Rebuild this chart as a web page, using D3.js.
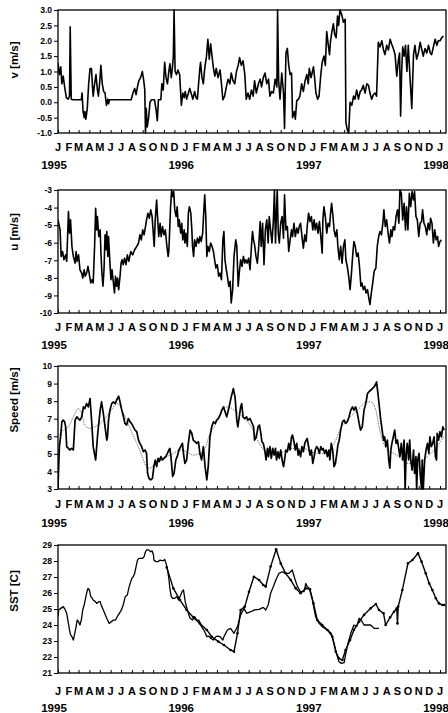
<!DOCTYPE html>
<html>
<head>
<meta charset="utf-8">
<script src="https://cdn.jsdelivr.net/npm/d3@7"></script>
<style>
body { margin: 0; background: #fff; }
svg { display: block; font-family: "Liberation Sans", Arial, Helvetica, sans-serif; }
</style>
</head>
<body>
<svg id="chart" width="448" height="713"></svg>
<script>
// [days since 1 Jan 1995, value]
var vSeries = [[0,1.27],[4,0.9],[8,1.15],[11,0.6],[15,0.85],[19,0.5],[24,0.15],[29,0.1],[33,0.2],[35,2.45],[38,0.1],[43,0.08],[67,0.08],[69,0.3],[72,-0.3],[75,-0.5],[77,-0.3],[80,-0.55],[84,-0.2],[88,0.6],[92,1.1],[96,1.1],[99,0.5],[101,0.2],[105,0.6],[109,0.9],[113,0.4],[116,0.2],[120,0.7],[123,1.2],[127,0.6],[131,0.35],[135,0.3],[139,-0.1],[143,0.1],[145,-0.05],[148,0.08],[210,0.08],[215,0.3],[220,0.45],[224,0.25],[228,0.5],[232,0.7],[237,0.8],[242,1.0],[246,0.7],[249,0.4],[251,-1.0],[253,-0.2],[256,-0.8],[260,-0.5],[264,0.0],[268,0.08],[277,0.08],[282,-0.3],[285,-0.6],[288,0.08],[295,0.08],[298,0.6],[302,0.4],[306,1.3],[310,0.8],[314,0.6],[318,1.0],[321,1.25],[325,0.8],[328,1.1],[331,1.5],[333,3.0],[336,1.0],[340,0.9],[344,1.05],[349,0.9],[354,-0.1],[358,0.3],[362,0.15],[365,0.35],[369,0.1],[373,0.25],[378,0.45],[383,0.25],[387,0.1],[392,0.35],[396,0.15],[400,0.1],[404,0.7],[407,1.1],[409,1.3],[413,0.8],[417,0.6],[421,1.1],[426,1.5],[430,2.05],[434,1.4],[438,1.9],[442,1.5],[446,1.1],[450,0.85],[454,1.1],[459,0.8],[465,1.05],[469,0.6],[473,0.08],[478,0.2],[483,0.5],[488,0.75],[493,0.6],[497,0.95],[502,0.7],[507,0.6],[512,1.0],[517,1.2],[521,1.45],[526,1.2],[531,1.35],[536,0.9],[540,0.1],[545,0.3],[550,0.1],[555,0.4],[560,0.2],[564,0.7],[569,0.3],[575,0.6],[580,0.75],[584,0.5],[589,0.8],[594,0.95],[599,0.6],[604,0.75],[608,0.2],[613,0.35],[618,0.3],[623,0.75],[628,0.5],[630,3.0],[633,0.7],[637,0.1],[642,0.95],[647,0.3],[650,-0.85],[654,1.6],[658,1.75],[662,1.2],[666,0.9],[670,0.95],[673,-0.5],[678,-0.3],[681,-0.55],[685,0.05],[690,0.1],[694,0.2],[699,0.6],[704,0.35],[709,0.7],[714,0.9],[718,0.6],[721,1.1],[726,0.8],[729,0.95],[733,1.15],[737,0.7],[740,0.3],[745,0.1],[749,0.2],[754,0.9],[758,1.3],[763,1.5],[767,1.2],[771,2.3],[775,1.9],[779,1.55],[782,2.0],[786,2.3],[790,2.55],[794,2.2],[798,2.1],[802,2.8],[805,2.5],[809,3.0],[814,2.85],[819,2.6],[824,2.7],[826,-0.65],[830,-0.9],[834,-1.0],[838,0.0],[843,-0.1],[848,0.2],[852,0.1],[857,0.4],[862,0.1],[867,0.35],[871,0.4],[876,0.55],[881,0.3],[886,0.6],[891,0.55],[895,0.3],[900,0.1],[905,0.25],[910,0.3],[914,0.2],[919,1.95],[924,1.8],[929,2.0],[934,1.7],[938,1.55],[943,1.85],[948,1.7],[953,2.05],[957,1.9],[962,1.75],[967,1.55],[972,0.85],[977,1.4],[980,1.6],[983,-0.45],[986,1.0],[989,1.8],[993,1.5],[997,1.85],[1001,1.0],[1005,1.85],[1010,0.8],[1015,-0.2],[1020,1.55],[1024,1.85],[1029,1.4],[1034,1.6],[1039,1.95],[1044,1.7],[1048,1.5],[1053,1.75],[1058,1.6],[1063,1.85],[1068,1.6],[1072,1.55],[1077,1.8],[1082,2.05],[1087,1.85],[1091,2.0],[1096,2.0],[1101,2.1],[1106,2.15]];

var uSeries = [[0,-4.7],[6,-5.27],[9,-6.78],[13,-6.5],[17,-6.97],[22,-6.69],[25,-7.06],[30,-4.23],[33,-5.46],[36,-4.7],[40,-6.21],[44,-6.78],[49,-7.16],[52,-6.5],[55,-7.06],[59,-6.69],[63,-7.54],[68,-7.73],[71,-8.01],[75,-7.54],[78,-7.91],[82,-7.73],[86,-7.35],[90,-7.82],[94,-8.29],[98,-8.1],[101,-8.29],[105,-6.21],[108,-4.04],[111,-5.27],[113,-4.51],[117,-5.65],[121,-5.27],[123,-6.5],[126,-7.73],[129,-8.48],[132,-7.54],[135,-5.55],[138,-6.4],[140,-5.36],[143,-6.78],[145,-5.65],[149,-7.16],[152,-8.1],[155,-7.54],[159,-8.29],[162,-8.86],[165,-7.91],[168,-8.48],[171,-8.01],[174,-8.67],[178,-7.91],[181,-7.16],[184,-6.97],[187,-7.25],[191,-6.88],[195,-7.25],[199,-6.69],[203,-7.06],[209,-6.5],[214,-6.69],[220,-6.4],[226,-6.21],[231,-6.02],[235,-5.55],[239,-5.84],[243,-5.27],[247,-5.55],[251,-5.08],[254,-4.7],[258,-4.32],[262,-4.61],[266,-4.13],[270,-4.51],[274,-5.65],[276,-6.21],[279,-4.7],[283,-3.57],[285,-4.32],[289,-5.65],[293,-4.89],[296,-5.65],[300,-5.08],[304,-5.55],[308,-5.27],[312,-6.12],[316,-6.78],[318,-6.5],[323,-3.95],[326,-3.0],[329,-3.38],[332,-3.09],[335,-4.13],[339,-4.51],[342,-3.95],[345,-5.08],[348,-4.7],[352,-5.46],[355,-4.89],[358,-5.84],[362,-5.27],[364,-6.02],[367,-5.46],[371,-6.21],[374,-4.32],[377,-3.95],[381,-4.32],[384,-5.27],[386,-6.21],[389,-6.78],[392,-5.84],[396,-6.21],[400,-5.74],[404,-6.02],[407,-5.65],[411,-5.93],[415,-5.46],[419,-3.95],[421,-3.28],[424,-4.51],[427,-6.78],[430,-6.21],[434,-6.5],[438,-6.02],[442,-6.21],[446,-6.5],[450,-7.06],[453,-7.44],[457,-7.25],[461,-7.91],[465,-7.73],[469,-8.1],[473,-5.84],[476,-5.36],[479,-6.97],[483,-7.54],[486,-7.91],[490,-8.48],[494,-8.2],[497,-9.43],[501,-8.67],[505,-6.78],[510,-5.84],[513,-6.21],[517,-8.48],[520,-7.73],[524,-6.97],[528,-7.35],[532,-6.78],[536,-7.16],[539,-6.97],[543,-7.16],[547,-6.88],[551,-7.54],[555,-6.21],[558,-5.36],[561,-5.84],[564,-6.12],[568,-6.78],[572,-7.16],[576,-6.21],[580,-4.8],[583,-6.21],[587,-4.89],[591,-7.25],[595,-5.27],[599,-4.7],[603,-6.02],[606,-4.51],[610,-5.27],[614,-6.02],[618,-4.7],[621,-3.0],[624,-6.02],[627,-4.13],[629,-3.0],[632,-5.46],[635,-6.02],[639,-4.89],[643,-4.51],[647,-5.74],[650,-3.28],[654,-5.27],[658,-5.08],[662,-6.5],[666,-5.84],[670,-5.27],[673,-5.65],[677,-4.89],[681,-5.65],[685,-5.17],[689,-5.46],[692,-5.08],[696,-4.89],[700,-5.65],[704,-6.31],[708,-5.55],[712,-5.93],[715,-5.08],[719,-4.32],[723,-4.8],[727,-4.51],[731,-5.27],[735,-4.7],[738,-5.27],[742,-4.89],[746,-5.46],[750,-4.8],[754,-5.65],[758,-6.59],[760,-4.7],[763,-3.95],[767,-4.51],[771,-5.46],[775,-4.89],[779,-5.08],[782,-4.32],[785,-3.76],[789,-4.51],[792,-5.27],[796,-5.65],[800,-5.27],[803,-6.21],[807,-6.97],[811,-6.21],[815,-7.16],[819,-6.21],[823,-5.84],[826,-6.97],[830,-7.35],[834,-7.91],[838,-8.67],[842,-7.73],[846,-6.59],[849,-5.93],[853,-6.21],[857,-6.78],[861,-6.59],[865,-7.35],[869,-8.48],[872,-8.29],[876,-8.67],[880,-8.48],[884,-8.86],[888,-8.67],[891,-9.05],[895,-9.52],[899,-8.86],[903,-8.29],[907,-7.63],[912,-7.44],[916,-6.21],[920,-5.65],[924,-5.36],[928,-5.55],[932,-4.89],[935,-4.13],[939,-5.08],[943,-4.7],[947,-5.46],[951,-6.02],[955,-5.27],[958,-5.65],[962,-5.08],[966,-5.27],[970,-4.51],[974,-4.13],[978,-4.89],[981,-3.0],[985,-3.19],[989,-4.7],[993,-3.76],[997,-5.27],[1000,-3.95],[1004,-5.27],[1008,-3.19],[1012,-3.95],[1016,-3.09],[1020,-3.57],[1023,-3.09],[1027,-4.51],[1031,-4.7],[1035,-5.65],[1039,-4.89],[1043,-4.8],[1046,-4.13],[1050,-4.89],[1054,-5.08],[1058,-5.55],[1062,-4.89],[1066,-5.27],[1069,-4.61],[1073,-4.89],[1077,-6.02],[1081,-5.27],[1085,-5.84],[1089,-5.65],[1092,-6.21],[1096,-5.93],[1100,-5.84]];

var speedSeries = [[0,3.14],[4,5.41],[8,6.07],[11,6.82],[15,6.92],[19,6.82],[22,6.54],[25,5.41],[30,5.31],[34,5.22],[39,5.31],[44,5.22],[49,6.92],[54,7.11],[58,7.01],[63,6.92],[68,7.11],[73,7.67],[77,7.58],[82,7.86],[87,7.67],[92,8.15],[97,6.73],[101,5.41],[108,4.65],[114,6.16],[121,7.49],[125,7.96],[130,7.3],[135,6.54],[140,5.78],[142,5.97],[145,6.92],[149,7.49],[154,7.86],[159,7.96],[164,7.86],[168,8.05],[174,8.28],[178,7.96],[183,7.49],[188,7.11],[192,6.73],[197,6.64],[202,7.01],[207,6.82],[211,6.73],[216,6.54],[221,6.35],[226,6.26],[231,5.78],[235,5.6],[240,5.41],[245,5.12],[250,5.22],[254,5.03],[257,3.89],[261,3.61],[266,3.52],[271,3.61],[275,4.27],[279,4.65],[283,4.27],[287,4.74],[291,4.56],[295,4.84],[299,4.65],[304,4.74],[309,4.84],[314,5.03],[318,5.22],[321,5.31],[324,4.84],[329,3.71],[333,3.89],[338,4.65],[342,4.84],[347,5.22],[352,5.41],[357,5.6],[360,5.03],[364,4.46],[369,4.65],[374,5.6],[379,6.35],[384,6.16],[388,5.78],[393,5.69],[398,5.6],[403,5.69],[407,5.03],[412,4.65],[417,5.41],[422,4.27],[427,3.52],[431,4.27],[436,5.97],[441,6.54],[446,6.82],[451,6.73],[455,6.92],[460,7.01],[465,7.2],[470,7.49],[475,7.67],[484,7.11],[491,7.67],[497,8.24],[503,8.71],[508,8.24],[513,6.92],[516,6.54],[520,7.11],[524,7.67],[527,7.86],[531,7.11],[536,7.01],[541,7.11],[545,6.92],[551,7.01],[557,6.73],[561,6.54],[564,5.78],[569,5.97],[574,6.54],[578,6.64],[582,6.16],[585,5.69],[589,5.6],[593,5.22],[597,4.65],[601,5.31],[604,4.84],[608,5.41],[612,4.74],[616,5.31],[620,4.93],[624,5.31],[627,4.65],[631,5.12],[635,4.74],[639,5.22],[643,4.65],[647,4.27],[650,4.65],[654,5.22],[658,5.12],[662,5.6],[666,5.22],[670,5.97],[673,6.07],[677,5.69],[681,5.22],[685,5.6],[689,4.93],[692,5.22],[696,4.84],[700,5.41],[704,5.12],[708,5.6],[712,5.78],[715,5.88],[719,5.41],[723,4.93],[727,5.22],[731,4.46],[735,4.84],[738,5.22],[742,5.41],[746,5.31],[750,5.03],[754,5.41],[758,5.22],[761,5.31],[765,5.03],[769,5.22],[773,4.84],[777,5.22],[780,4.65],[784,5.6],[788,5.22],[792,4.27],[796,4.46],[800,5.03],[803,5.5],[807,5.78],[811,6.35],[816,6.82],[821,6.92],[825,6.73],[830,6.82],[835,7.11],[840,7.49],[845,7.67],[849,7.49],[854,7.67],[859,7.3],[864,6.73],[868,6.35],[873,6.54],[878,7.49],[883,7.86],[888,8.43],[892,8.53],[897,8.62],[902,8.71],[907,8.81],[912,9.0],[914,9.09],[918,8.43],[922,7.67],[926,6.92],[930,6.35],[934,5.78],[937,5.97],[941,5.41],[945,5.78],[949,4.65],[952,4.18],[955,5.22],[958,5.6],[962,5.97],[966,6.35],[970,5.6],[974,5.78],[978,5.22],[981,4.84],[985,5.6],[989,4.65],[993,5.78],[996,3.0],[999,5.03],[1002,5.6],[1006,4.65],[1009,5.78],[1012,4.65],[1016,4.08],[1020,5.22],[1023,3.89],[1027,4.84],[1029,3.0],[1032,4.65],[1036,5.03],[1039,3.89],[1043,3.0],[1045,4.65],[1048,3.0],[1052,4.65],[1056,5.22],[1060,5.6],[1064,5.03],[1067,5.97],[1071,5.41],[1075,5.6],[1079,5.97],[1083,4.84],[1086,4.65],[1088,6.16],[1092,5.78],[1096,6.26],[1100,5.97],[1104,6.54],[1108,6.35]];

var speedSmooth = [[4,6.07],[15,6.35],[30,6.54],[44,7.11],[58,7.58],[68,7.3],[77,6.64],[92,6.45],[106,6.54],[121,6.73],[135,7.01],[149,7.39],[164,7.77],[173,7.86],[183,7.49],[197,6.92],[211,6.26],[226,5.6],[240,4.93],[254,4.27],[264,4.18],[278,4.46],[293,4.74],[312,4.84],[331,5.03],[350,5.22],[369,5.12],[388,4.93],[407,5.03],[422,5.31],[436,6.16],[451,6.64],[465,7.3],[476,7.67],[491,7.67],[505,7.49],[519,7.3],[534,7.01],[548,6.73],[562,6.26],[577,5.6],[591,5.22],[610,5.12],[629,5.03],[649,5.12],[668,5.31],[687,5.31],[706,5.31],[725,5.12],[744,5.03],[763,5.03],[782,5.31],[797,5.78],[811,6.45],[830,6.92],[849,7.3],[868,7.67],[883,7.96],[897,7.96],[912,7.49],[921,6.54],[931,5.78],[945,5.22],[964,5.03],[983,4.74],[1002,4.46],[1022,4.46],[1041,4.56],[1060,4.84],[1079,5.22],[1098,5.69],[1108,6.0]];

var sstDaily = [[0,24.52],[2,24.94],[8,25.04],[15,25.15],[21,24.94],[25,24.73],[29,24.21],[33,23.69],[36,23.38],[40,23.27],[44,23.06],[48,23.48],[52,23.9],[55,24.31],[59,24.21],[63,24.0],[67,24.31],[71,24.94],[75,25.25],[78,25.56],[82,25.98],[86,26.29],[90,26.19],[94,25.77],[98,25.67],[101,25.56],[107,25.46],[111,25.35],[117,25.46],[121,25.46],[124,25.25],[130,24.94],[136,24.63],[142,24.31],[147,24.1],[153,24.21],[159,24.31],[165,24.31],[170,24.52],[176,24.73],[182,24.94],[187,25.25],[193,25.77],[199,25.88],[203,26.29],[207,26.6],[212,26.92],[216,27.02],[220,27.23],[224,27.65],[228,28.06],[232,28.17],[237,28.17],[243,28.17],[247,28.27],[251,28.58],[254,28.69],[260,28.69],[266,28.58],[270,28.63],[274,28.38],[275,28.06],[281,27.96],[287,27.96],[293,28.06],[298,28.02],[302,28.02],[306,28.1],[310,27.85],[314,27.48],[318,26.92],[321,26.29],[325,25.77],[329,25.67],[335,25.67],[341,25.77],[346,25.56],[350,25.77],[356,26.08],[360,26.19],[365,25.46],[371,24.94],[379,24.42],[386,24.31],[392,24.52],[398,24.31],[404,24.31],[409,24.0],[415,23.79],[421,23.58],[427,23.27],[432,23.31],[438,23.17],[446,23.06],[451,23.23],[457,23.31],[465,23.27],[473,23.06],[476,23.27],[486,23.69],[495,23.79],[505,23.48],[515,23.9],[524,24.63],[534,25.04],[541,24.73],[553,24.83],[564,24.94],[577,24.98],[589,25.1],[596,24.94],[603,25.25],[610,25.98],[618,26.4],[625,26.81],[634,27.23],[644,27.33],[653,27.23],[663,27.23],[672,27.44],[679,26.92],[687,26.4],[696,26.08],[706,26.08],[711,26.6],[715,26.4],[721,26.29],[730,25.56],[739,24.52],[749,24.1],[758,23.9],[773,23.69],[784,23.48],[792,22.85],[800,22.13],[806,21.71],[813,21.6],[821,21.65],[825,22.13],[832,22.85],[840,23.48],[849,24.0],[857,23.9],[864,24.42],[870,24.31],[878,24.0],[888,24.0],[897,24.0],[907,23.79],[921,23.79]];

var sstPoints = [[312,27.6],[331,26.29],[350,25.56],[369,24.94],[388,24.48],[407,24.1],[427,23.69],[441,23.27],[460,22.96],[476,22.75],[495,22.44],[505,22.33],[515,23.48],[524,24.94],[536,25.15],[548,26.08],[562,27.02],[577,26.81],[589,26.5],[596,26.4],[610,27.65],[626,28.73],[639,27.85],[653,27.23],[668,26.81],[682,26.29],[696,25.98],[711,26.29],[723,26.23],[733,25.35],[744,24.31],[758,24.0],[773,23.69],[787,23.27],[797,22.33],[806,21.92],[816,21.81],[825,22.44],[838,23.06],[849,23.69],[864,24.21],[878,24.63],[897,25.04],[912,25.31],[921,24.94],[934,24.73],[940,24.0],[953,24.48],[964,24.83],[972,25.04],[974,24.1],[976,25.15],[988,26.19],[1004,27.85],[1017,28.06],[1033,28.48],[1043,27.96],[1055,27.23],[1065,26.6],[1074,26.19],[1084,25.67],[1093,25.35],[1103,25.25],[1108,25.25]];

var monthLetters = ['J', 'F', 'M', 'A', 'M', 'J', 'J', 'A', 'S', 'O', 'N', 'D'];
var yearLabels = [1995, 1996, 1997, 1998];
var vTicks = [-1, -0.5, 0, 0.5, 1, 1.5, 2, 2.5, 3];
var uTicks = [-10, -9, -8, -7, -6, -5, -4, -3];
var speedTicks = [3, 4, 5, 6, 7, 8, 9, 10];
var sstTicks = [21, 22, 23, 24, 25, 26, 27, 28, 29];

function translate(x, y) {
    return 'translate(' + x + ',' + y + ')';
}

var t0 = new Date(1995, 0, 1);
function day(d) { return d3.timeDay.offset(t0, d); }

var left = 58, right = 446;
var x = d3.scaleTime().domain([t0, new Date(1998, 0, 1)]).range([left, 440]);
var months = d3.timeMonth.range(t0, new Date(1998, 0, 2));

var panels = [
    { top: 10, bottom: 133, domain: [-1, 3], ticks: vTicks, fmt: d => d.toFixed(1),
      label: 'v [m/s]', labelY: 60, monthDy: 18, yearDy: 36,
      lines: [{ data: vSeries, w: 1.6 }] },
    { top: 190, bottom: 313, domain: [-10, -3], ticks: uTicks, fmt: d => String(d),
      label: 'u [m/s]', labelY: 232, monthDy: 18, yearDy: 36,
      lines: [{ data: uSeries, w: 1.6 }] },
    { top: 366, bottom: 489, domain: [3, 10], ticks: speedTicks, fmt: d => String(d),
      label: 'Speed [m/s]', labelY: 400, monthDy: 19, yearDy: 38,
      lines: [{ data: speedSmooth, w: 1, color: '#777', dash: '1.5,1', curve: d3.curveMonotoneX },
              { data: speedSeries, w: 1.7 }] },
    { top: 545, bottom: 673, domain: [21, 29], ticks: sstTicks, fmt: d => String(d),
      label: 'SST [C]', labelY: 591, monthDy: 22, yearDy: 39,
      lines: [{ data: sstDaily, w: 1.3 }, { data: sstPoints, w: 1.4, dots: true }] }
];

var svg = d3.select('#chart');

panels.forEach(function (p, i) {
    var y = d3.scaleLinear().domain(p.domain).range([p.bottom, p.top]);
    var g = svg.append('g');
    var clipId = 'clip' + i;

    svg.append('clipPath').attr('id', clipId)
        .append('rect')
        .attr('x', left)
        .attr('y', p.top - 1)
        .attr('width', right - left)
        .attr('height', p.bottom - p.top + 2);

    var line = d3.line()
        .x(d => x(day(d[0])))
        .y(d => y(d[1]));

    var plot = g.append('g').attr('clip-path', 'url(#' + clipId + ')');
    p.lines.forEach(function (s) {
        plot.append('path')
            .datum(s.data)
            .attr('fill', 'none')
            .attr('stroke', s.color || '#000')
            .attr('stroke-width', s.w)
            .attr('stroke-dasharray', s.dash || null)
            .attr('stroke-linejoin', 'round')
            .attr('d', line.curve(s.curve || d3.curveLinear));
        if (s.dots) {
            plot.selectAll(null).data(s.data).enter()
                .append('circle')
                .attr('cx', d => x(day(d[0])))
                .attr('cy', d => y(d[1]))
                .attr('r', 1.3)
                .attr('fill', '#000');
        }
    });

    // frame
    g.append('rect')
        .attr('x', left).attr('y', p.top)
        .attr('width', right - left).attr('height', p.bottom - p.top)
        .attr('fill', 'none').attr('stroke', '#000').attr('stroke-width', 1.3);

    var yAxis = d3.axisLeft(y).tickValues(p.ticks).tickSize(4).tickPadding(2).tickFormat(p.fmt);
    var yGroup = g.append('g')
        .attr('transform', translate(left, 0))
        .call(yAxis)
        .attr('font-family', null)
        .attr('font-size', 8.5)
        .attr('font-weight', 'bold');
    yGroup.select('.domain').remove();

    var xAxis = d3.axisBottom(x).tickValues(months).tickSize(-3).tickFormat('');
    var xGroup = g.append('g')
        .attr('transform', translate(0, p.bottom))
        .call(xAxis);
    xGroup.select('.domain').remove();

    g.selectAll('text.month').data(months).enter()
        .append('text')
        .attr('class', 'month')
        .attr('x', d => x(d))
        .attr('y', p.bottom + p.monthDy)
        .attr('text-anchor', 'middle')
        .attr('font-size', 11)
        .attr('font-weight', 'bold')
        .text(d => monthLetters[d.getMonth()]);

    g.selectAll('text.year').data(yearLabels).enter()
        .append('text')
        .attr('class', 'year')
        .attr('x', d => x(new Date(d, 0, 1)) - 4)
        .attr('y', p.bottom + p.yearDy)
        .attr('text-anchor', 'middle')
        .attr('font-size', 11.5)
        .attr('font-weight', 'bold')
        .text(d => d);

    g.append('text')
        .attr('transform', translate(18, p.labelY) + ' rotate(-90)')
        .attr('text-anchor', 'middle')
        .attr('font-size', 11.5)
        .attr('font-weight', 'bold')
        .text(p.label);
});
</script>
</body>
</html>
